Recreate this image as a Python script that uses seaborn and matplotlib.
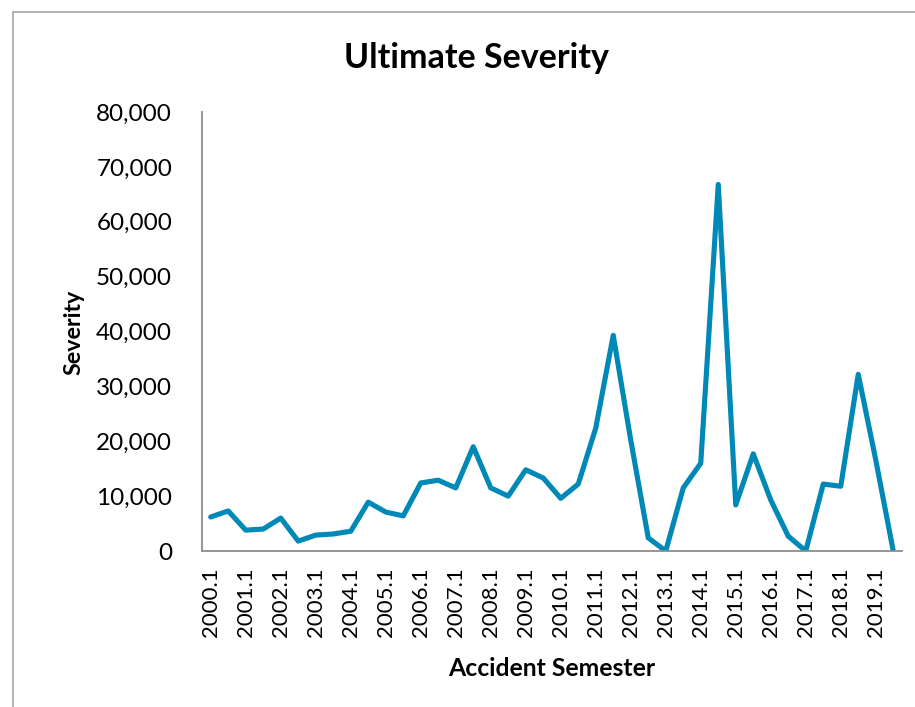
import numpy as np
import pandas as pd
import matplotlib
matplotlib.use("Agg")
import matplotlib.pyplot as plt
from matplotlib.lines import Line2D
import matplotlib.ticker as mticker
import seaborn as sns

semesters = [f"{y}.{s}" for y in range(2000, 2020) for s in (1, 2)]
severity = [6200, 7300, 3800, 4000, 6000, 1800, 2900, 3100, 3600, 8900,
            7100, 6400, 12400, 12900, 11500, 19000, 11500, 10000, 14800, 13300,
            9600, 12200, 22400, 39300, 20200, 2400, 0, 11500, 16000, 66800,
            8400, 17700, 9300, 2700, 0, 12200, 11800, 32200, 16600, 0]
tick_labels = [s for s in semesters if s.endswith(".1")]

sns.set_theme(style="white")
plt.rcParams['font.family'] = ['Lato', 'DejaVu Sans']
plt.rcParams['text.color'] = 'black'

df = pd.DataFrame({"idx": np.arange(len(semesters)), "Severity": severity})

W, H = 915, 707
fig = plt.figure(figsize=(W / 100, H / 100), dpi=100)
ax = fig.add_axes([202 / W, 1 - 551 / H, 700 / W, (551 - 112) / H])

sns.lineplot(data=df, x="idx", y="Severity", ax=ax, color="#0089B6",
             linewidth=3.7, solid_joinstyle="round", solid_capstyle="round")

ax.set_xlim(-0.5, len(semesters) - 0.5)
ax.set_ylim(0, 80000)
ax.set_yticks(np.arange(0, 80001, 10000))
ax.yaxis.set_major_formatter(mticker.FuncFormatter(lambda v, p: f"{int(v):,}"))
ax.set_xticks(np.arange(0, len(semesters), 2))
ax.set_xticklabels(tick_labels, rotation=90)
ax.tick_params(axis="both", length=0, labelcolor="black")
ax.tick_params(axis="y", labelsize=17.5, pad=21.5)
ax.tick_params(axis="x", labelsize=16, pad=12)

for side in ("top", "right"):
    ax.spines[side].set_visible(False)
for side in ("left", "bottom"):
    ax.spines[side].set_color("#8c8c8c")
    ax.spines[side].set_linewidth(1.3)

ax.set_xlabel("")
ax.set_ylabel("")
fig.text(552 / W, 1 - 668 / H, "Accident Semester", ha="center", va="center",
         fontsize=17.8, fontweight="bold", color="black")
fig.text(74 / W, 1 - 332 / H, "Severity", ha="center", va="center",
         rotation=90, fontsize=16.7, fontweight="bold", color="black")
fig.text(476 / W, 1 - 58 / H, "Ultimate Severity", ha="center", va="center",
         fontsize=24.5, fontweight="bold", color="black")

# outer chart border
fig.add_artist(Line2D([13 / W, 1.0], [1 - 12 / H, 1 - 12 / H], color="#a6a6a6", lw=1.2))
fig.add_artist(Line2D([13 / W, 13 / W], [0.0, 1 - 12 / H], color="#a6a6a6", lw=1.2))

fig.savefig("out.png", dpi=100, facecolor="white")
